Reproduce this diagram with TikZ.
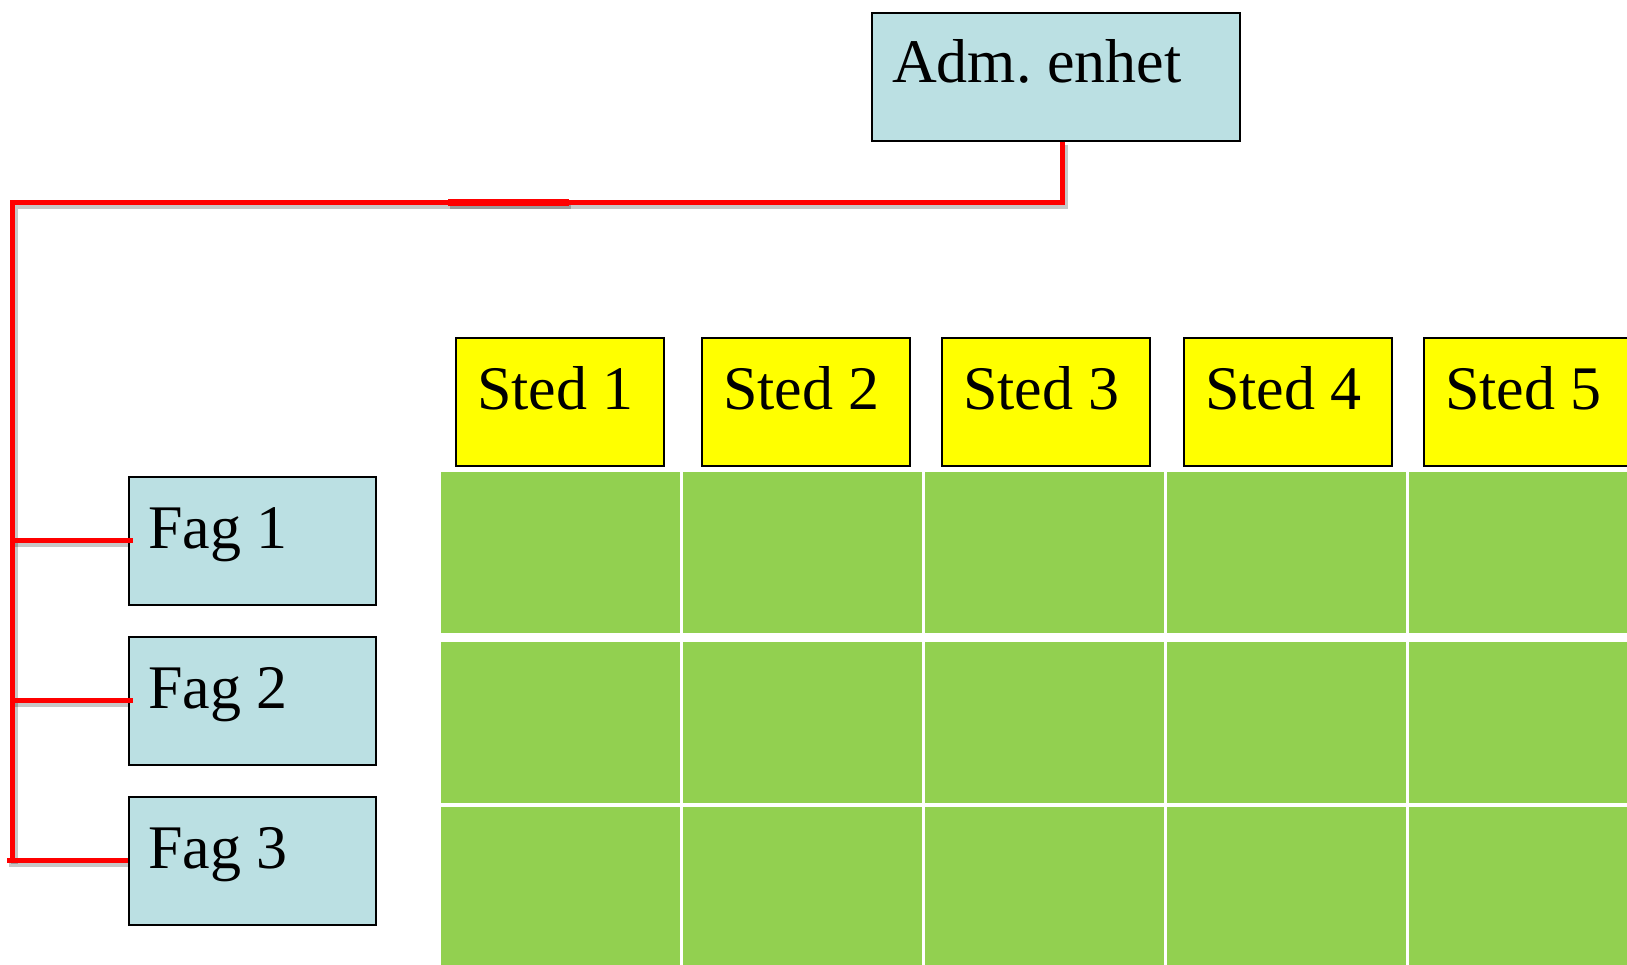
\documentclass[tikz,border=0pt]{standalone}
\usepackage{fontspec}
\setmainfont{Liberation Serif}
\usetikzlibrary{calc}
\frenchspacing
\definecolor{boxblue}{RGB}{187,224,227}
\definecolor{cellgreen}{RGB}{146,208,80}
\definecolor{stedyellow}{RGB}{255,255,0}
\definecolor{linered}{RGB}{255,0,0}
\newcommand\connpaths[1]{%
  \draw[#1] ([xshift=7pt]adm.south) |- (bus) -- (bus |- fag3.west);
  \draw[#1] ([xshift=-5pt]bus |- fag3.west) -- (fag3.west);
  \draw[#1] (bus |- fag1.west) -- ([xshift=5pt]fag1.west);
  \draw[#1] (bus |- fag2.west) -- ([xshift=5pt]fag2.west);
  \draw[#1,line width=7pt] ($(bus)+(436,0)$) -- ($(bus)+(557,0)$);
}
\begin{document}
\begin{tikzpicture}[x=1pt,y=1pt,
  box/.style={draw=black,line width=1.6pt,inner sep=0pt,anchor=north west},
  admbox/.style={box,fill=boxblue,minimum width=368pt,minimum height=128pt},
  fagbox/.style={box,fill=boxblue,minimum width=247pt,minimum height=128pt},
  stedbox/.style={box,fill=stedyellow,minimum width=208pt,minimum height=128pt},
  lbl/.style={anchor=base west,inner sep=0pt,font=\fontsize{62}{70}\selectfont},
  cell/.style={fill=cellgreen,draw=none},
  conn/.style={draw=linered,line width=5pt,line join=miter},
  connshadow/.style={draw=black,opacity=0.22,line width=7pt,transform canvas={shift={(2pt,-3pt)}}}
]
\useasboundingbox (0,0) rectangle (1627,-965);
\clip (0,0) rectangle (1627,-965);

% green grid
\foreach \xa/\xb in {441/680,683/922,925/1164,1167/1406,1409/1660}{
  \foreach \ya/\yb in {472/633,642/803,807/975}{
    \path[cell] (\xa,-\ya) rectangle (\xb,-\yb);
  }
}

% boxes
\node[admbox] (adm) at (871,-12) {};
\node[fagbox] (fag1) at (128,-476) {};
\node[fagbox] (fag2) at (128,-636) {};
\node[fagbox] (fag3) at (128,-796) {};
\coordinate (bus) at (12,-203);

\connpaths{connshadow}

\node[admbox] at (871,-12) {};
\node[fagbox] at (128,-476) {};
\node[fagbox] at (128,-636) {};
\node[fagbox] at (128,-796) {};

\node[stedbox] (s1) at (455,-337) {};
\node[stedbox] (s2) at (701,-337) {};
\node[stedbox] (s3) at (941,-337) {};
\node[stedbox] (s4) at (1183,-337) {};
\node[stedbox] (s5) at (1423,-337) {};

% texts
\node[lbl] (admtxt) at (892,-83) {Adm. enhet};
\node[lbl] (fag1txt) at (148,-548) {Fag 1};
\node[lbl] (fag2txt) at (148,-708) {Fag 2};
\node[lbl] (fag3txt) at (148,-868) {Fag 3};
\node[lbl] (s1txt) at (477,-409) {Sted 1};
\node[lbl] (s2txt) at (723,-409) {Sted 2};
\node[lbl] (s3txt) at (963,-409) {Sted 3};
\node[lbl] (s4txt) at (1205,-409) {Sted 4};
\node[lbl] (s5txt) at (1445,-409) {Sted 5};

\connpaths{conn}
\end{tikzpicture}
\end{document}
